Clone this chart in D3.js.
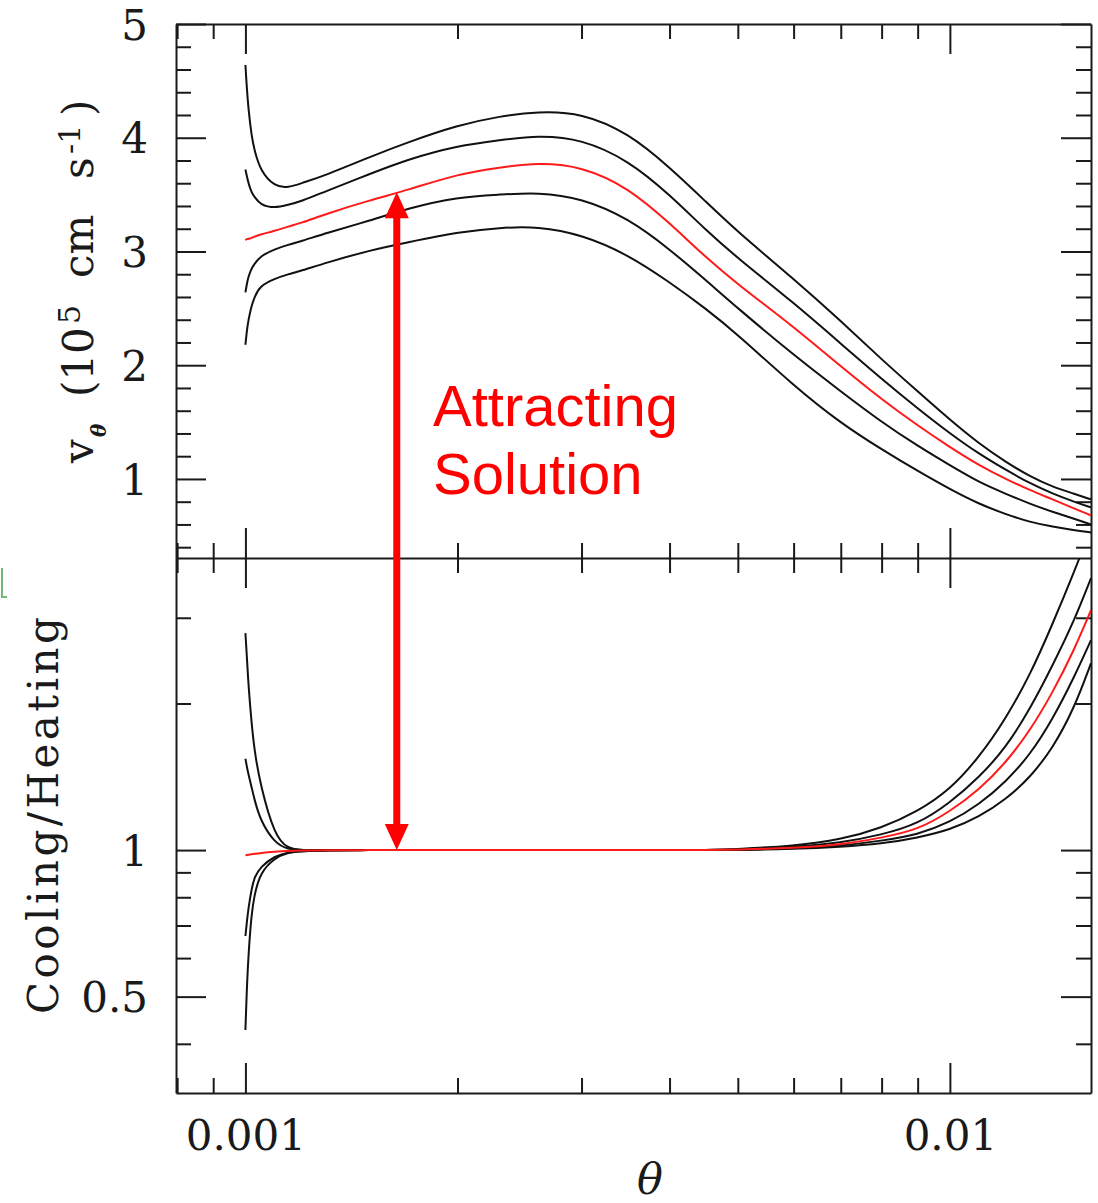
<!DOCTYPE html>
<html>
<head>
<meta charset="utf-8">
<script src="https://cdn.jsdelivr.net/npm/d3@7"></script>
<style>
  html, body { margin: 0; padding: 0; background: #fff; }
  svg { display: block; }
</style>
</head>
<body>
<div id="chart"></div>
<script>
// theta grid shared by every curve
const theta = [0.001, 0.001005, 0.00101, 0.00102, 0.00103, 0.00105, 0.0011, 0.00115, 0.0012, 0.0013,
  0.0015, 0.0017, 0.002, 0.0023, 0.0026, 0.003, 0.0035, 0.004, 0.0045, 0.005,
  0.006, 0.007, 0.008, 0.009, 0.01, 0.011, 0.012, 0.013, 0.014, 0.015, 0.01586];

// upper panel: v_theta (10^5 cm/s)
const vA   = [4.64, 4.42, 4.25, 4.02, 3.89, 3.71, 3.57, 3.56, 3.60, 3.67, 3.83, 3.96, 4.11, 4.19, 4.23, 4.22, 4.04, 3.74, 3.44, 3.17, 2.76, 2.39, 2.05, 1.77, 1.52, 1.31, 1.15, 1.02, 0.93, 0.87, 0.82];
const vB   = [3.72, 3.66, 3.60, 3.52, 3.48, 3.41, 3.38, 3.41, 3.44, 3.53, 3.68, 3.81, 3.93, 3.98, 4.02, 3.99, 3.80, 3.50, 3.19, 2.94, 2.55, 2.19, 1.88, 1.62, 1.40, 1.22, 1.08, 0.96, 0.87, 0.80, 0.75];
const vRed = [3.10, 3.11, 3.11, 3.12, 3.13, 3.15, 3.18, 3.22, 3.25, 3.33, 3.45, 3.54, 3.68, 3.74, 3.78, 3.75, 3.56, 3.25, 2.95, 2.71, 2.34, 1.99, 1.70, 1.47, 1.28, 1.12, 1.00, 0.90, 0.82, 0.74, 0.68];
const vD   = [2.64, 2.72, 2.78, 2.85, 2.89, 2.96, 3.02, 3.06, 3.09, 3.16, 3.27, 3.38, 3.48, 3.50, 3.52, 3.47, 3.29, 3.02, 2.75, 2.50, 2.09, 1.77, 1.50, 1.29, 1.12, 0.97, 0.87, 0.78, 0.71, 0.65, 0.60];
const vE   = [2.18, 2.31, 2.40, 2.52, 2.60, 2.70, 2.76, 2.80, 2.83, 2.90, 3.01, 3.08, 3.17, 3.21, 3.22, 3.15, 2.97, 2.73, 2.50, 2.27, 1.82, 1.49, 1.26, 1.07, 0.91, 0.78, 0.69, 0.62, 0.58, 0.55, 0.53];

// lower panel: cooling / heating
const r1   = [2.79, 2.48, 2.18, 1.83, 1.60, 1.36, 1.07, 1.005, 1, 1, 1, 1, 1, 1, 1, 1, 1, 1, 1, 1.005, 1.02, 1.05, 1.11, 1.20, 1.33, 1.55, 1.86, 2.29, 2.92, 3.72, 4.57];
const r2   = [1.54, 1.48, 1.43, 1.35, 1.27, 1.15, 1.034, 1.003, 1, 1, 1, 1, 1, 1, 1, 1, 1, 1, 1, 1.003, 1.015, 1.035, 1.075, 1.13, 1.25, 1.41, 1.62, 1.95, 2.40, 2.95, 3.62];
const rRed = [0.976, 0.977, 0.978, 0.98, 0.982, 0.986, 0.992, 0.996, 0.998, 0.999, 1, 1, 1, 1, 1, 1, 1, 1, 1, 1.002, 1.01, 1.025, 1.06, 1.10, 1.20, 1.33, 1.51, 1.76, 2.11, 2.57, 3.11];
const r3   = [0.666, 0.715, 0.76, 0.83, 0.88, 0.923, 0.972, 0.99, 0.995, 0.999, 1, 1, 1, 1, 1, 1, 1, 1, 1, 1, 1.008, 1.02, 1.045, 1.075, 1.14, 1.24, 1.38, 1.57, 1.86, 2.26, 2.70];
const r4   = [0.427, 0.528, 0.61, 0.74, 0.81, 0.90, 0.963, 0.99, 0.995, 0.999, 1, 1, 1, 1, 1, 1, 1, 1, 1, 1, 1.005, 1.015, 1.03, 1.06, 1.10, 1.17, 1.27, 1.41, 1.62, 1.95, 2.42];

// ticks
const xMajor = [0.001, 0.01];
const xMinor = [0.0008, 0.0009, 0.002, 0.003, 0.004, 0.005, 0.006, 0.007, 0.008, 0.009];
const topMajor = [1, 2, 3, 4, 5];
const topMinor = [0.4, 0.6, 0.8, 1.2, 1.4, 1.6, 1.8, 2.2, 2.4, 2.6, 2.8, 3.2, 3.4, 3.6, 3.8, 4.2, 4.4, 4.6, 4.8];
const botMajor = [0.5, 1];
const botMinor = [0.4, 0.6, 0.7, 0.8, 0.9, 2, 3];
const botLabels = ["0.5", "1"];

// annotation arrow: from the red curve above down to ratio 1 below
const arrowTheta = 0.00164, arrowV = 3.52, arrowRatio = 1;

const W = 1098, H = 1203;
const pLeft = 176, pRight = 1091, pTop = 24, pMid = 558, pBottom = 1093;
const serif = "'DejaVu Serif', serif";
const ink = "#1a1a1a";

const x = d3.scaleLog().domain([0.000797, 0.01586]).range([pLeft, pRight]);
const yTop = d3.scaleLinear().domain([0.305, 5]).range([pMid, pTop]);
const yBot = d3.scaleLog().domain([0.317, 3.98]).range([pBottom, pMid]);

const svg = d3.select("#chart").append("svg")
    .attr("width", W)
    .attr("height", H);

const defs = svg.append("defs");
defs.append("clipPath").attr("id", "clipTop")
    .append("rect").attr("x", pLeft).attr("y", pTop).attr("width", pRight - pLeft).attr("height", pMid - pTop);
defs.append("clipPath").attr("id", "clipBot")
    .append("rect").attr("x", pLeft).attr("y", pMid).attr("width", pRight - pLeft).attr("height", pBottom - pMid);

function styleAxis(g) {
    g.attr("color", ink).attr("font-family", serif).attr("font-size", 42);
    g.selectAll("line").attr("stroke-width", 2);
    g.select(".domain").attr("stroke-width", 2);
}

function ticksOnly(axis, tx, ty) {
    svg.append("g")
        .attr("transform", `translate(${tx},${ty})`)
        .call(axis.tickFormat("").tickSizeOuter(0))
        .call(styleAxis)
        .call(g => g.select(".domain").remove());
}

// ---- x axes (top edge, panel border, bottom edge)
ticksOnly(d3.axisTop(x).tickValues(xMajor).tickSize(-30), 0, pTop);
ticksOnly(d3.axisTop(x).tickValues(xMinor).tickSize(-15), 0, pTop);
ticksOnly(d3.axisBottom(x).tickValues(xMajor).tickSize(30), 0, pMid);
ticksOnly(d3.axisBottom(x).tickValues(xMajor).tickSize(-30), 0, pMid);
ticksOnly(d3.axisBottom(x).tickValues(xMinor).tickSize(15), 0, pMid);
ticksOnly(d3.axisBottom(x).tickValues(xMinor).tickSize(-15), 0, pMid);
ticksOnly(d3.axisBottom(x).tickValues(xMinor).tickSize(-15), 0, pBottom);

svg.append("g")
    .attr("transform", `translate(0,${pTop})`)
    .call(d3.axisTop(x).tickValues([]).tickSizeOuter(0))
    .call(styleAxis);
svg.append("g")
    .attr("transform", `translate(0,${pMid})`)
    .call(d3.axisTop(x).tickValues([]).tickSizeOuter(0))
    .call(styleAxis);
svg.append("g")
    .attr("transform", `translate(0,${pBottom})`)
    .call(d3.axisBottom(x).tickValues(xMajor).tickSize(-30).tickSizeOuter(0).tickPadding(57)
        .tickFormat(d => d === 0.001 ? "0.001" : "0.01"))
    .call(styleAxis)
    .call(g => g.selectAll("text").attr("dy", 0));

// ---- y axes, upper panel
svg.append("g")
    .attr("transform", `translate(${pLeft},0)`)
    .call(d3.axisLeft(yTop).tickValues(topMajor).tickSize(-30).tickSizeOuter(0).tickPadding(28)
        .tickFormat(d3.format("d")))
    .call(styleAxis)
    .call(g => g.selectAll("text").attr("dy", "0.36em"));
ticksOnly(d3.axisLeft(yTop).tickValues(topMinor).tickSize(-15), pLeft, 0);
svg.append("g")
    .attr("transform", `translate(${pRight},0)`)
    .call(d3.axisRight(yTop).tickValues(topMajor).tickSize(-30).tickSizeOuter(0).tickFormat(""))
    .call(styleAxis);
ticksOnly(d3.axisRight(yTop).tickValues(topMinor).tickSize(-15), pRight, 0);

// ---- y axes, lower panel
svg.append("g")
    .attr("transform", `translate(${pLeft},0)`)
    .call(d3.axisLeft(yBot).tickValues(botMajor).tickSize(-30).tickSizeOuter(0).tickPadding(28)
        .tickFormat((d, i) => botLabels[i]))
    .call(styleAxis)
    .call(g => g.selectAll("text").attr("dy", "0.36em"));
ticksOnly(d3.axisLeft(yBot).tickValues(botMinor).tickSize(-15), pLeft, 0);
svg.append("g")
    .attr("transform", `translate(${pRight},0)`)
    .call(d3.axisRight(yBot).tickValues(botMajor).tickSize(-30).tickSizeOuter(0).tickFormat(""))
    .call(styleAxis);
ticksOnly(d3.axisRight(yBot).tickValues(botMinor).tickSize(-15), pRight, 0);

// ---- curves
const pairs = vals => theta.map((t, i) => [t, vals[i]]);

const lineTop = d3.line()
    .x(d => x(d[0]))
    .y(d => yTop(d[1]))
    .curve(d3.curveBasis);

const lineBot = d3.line()
    .x(d => x(d[0]))
    .y(d => yBot(d[1]))
    .curve(d3.curveBasis);

const topSeries = [
    { vals: vA, color: "#111" },
    { vals: vB, color: "#111" },
    { vals: vD, color: "#111" },
    { vals: vE, color: "#111" },
    { vals: vRed, color: "#ff1a1a" }
];
const botSeries = [
    { vals: r1, color: "#111" },
    { vals: r2, color: "#111" },
    { vals: r3, color: "#111" },
    { vals: r4, color: "#111" },
    { vals: rRed, color: "#ff1a1a" }
];

svg.append("g").attr("clip-path", "url(#clipTop)")
    .selectAll("path").data(topSeries).join("path")
    .attr("fill", "none")
    .attr("stroke", d => d.color)
    .attr("stroke-width", 2)
    .attr("d", d => lineTop(pairs(d.vals)));

svg.append("g").attr("clip-path", "url(#clipBot)")
    .selectAll("path").data(botSeries).join("path")
    .attr("fill", "none")
    .attr("stroke", d => d.color)
    .attr("stroke-width", 2)
    .attr("d", d => lineBot(pairs(d.vals)));

// ---- double arrow
const ax = x(arrowTheta), ay1 = yTop(arrowV), ay2 = yBot(arrowRatio);
const headW = 12, headH = 26;
svg.append("line")
    .attr("x1", ax).attr("x2", ax)
    .attr("y1", ay1 + headH - 2).attr("y2", ay2 - headH + 2)
    .attr("stroke", "#ff0000")
    .attr("stroke-width", 7);
svg.append("path")
    .attr("fill", "#ff0000")
    .attr("d", `M${ax},${ay1} L${ax - headW},${ay1 + headH} L${ax + headW},${ay1 + headH} Z`);
svg.append("path")
    .attr("fill", "#ff0000")
    .attr("d", `M${ax},${ay2} L${ax - headW},${ay2 - headH} L${ax + headW},${ay2 - headH} Z`);

// ---- annotation text
const note = svg.append("g")
    .attr("fill", "#ff0000")
    .attr("font-family", "'Liberation Sans', Arial, sans-serif")
    .attr("font-size", 58);
note.append("text").attr("x", 433).attr("y", 426).text("Attracting");
note.append("text").attr("x", 433).attr("y", 494).text("Solution");

// ---- axis titles
svg.append("text")
    .attr("x", 650).attr("y", 1194)
    .attr("text-anchor", "middle")
    .attr("font-family", serif)
    .attr("font-style", "italic")
    .attr("font-size", 43)
    .attr("fill", ink)
    .text("θ");

const yt = svg.append("text")
    .attr("transform", "translate(93,463) rotate(-90)")
    .attr("font-family", serif)
    .attr("font-size", 42)
    .attr("fill", ink);
yt.append("tspan").attr("x", 0).attr("y", 0).text("v");
yt.append("tspan").attr("x", 26).attr("y", 13).attr("font-size", 20)
    .attr("font-style", "italic").attr("font-weight", "bold").text("θ");
yt.append("tspan").attr("x", 66).attr("y", 0).text("(10");
yt.append("tspan").attr("x", 139).attr("y", -13).attr("font-size", 30).text("5");
yt.append("tspan").attr("x", 185).attr("y", 0).text("cm");
yt.append("tspan").attr("x", 284).attr("y", 0).text("s");
yt.append("tspan").attr("x", 309).attr("y", -13).attr("font-size", 30).text("-1");
yt.append("tspan").attr("x", 347).attr("y", 0).text(")");

svg.append("text")
    .attr("transform", "translate(58,1014) rotate(-90)")
    .attr("font-family", serif)
    .attr("font-size", 42)
    .attr("fill", ink)
    .attr("textLength", 397)
    .attr("lengthAdjust", "spacing")
    .text("Cooling/Heating");

// small green mark at the left edge
svg.append("path")
    .attr("fill", "none")
    .attr("stroke", "#72b872")
    .attr("stroke-width", 2)
    .attr("d", "M2,568 V597 H7");
</script>
</body>
</html>
